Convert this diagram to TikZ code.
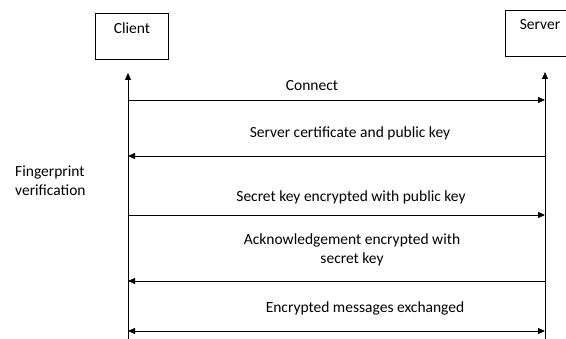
\documentclass[tikz,border=0pt]{standalone}
\usepackage{fontspec}
\setmainfont{Carlito}
\usetikzlibrary{arrows.meta}
\begin{document}
\begin{tikzpicture}[x=1pt,y=-1pt,
  box/.style={draw, line width=0.8pt, inner sep=0pt},
  lbl/.style={font=\fontsize{15.5}{19}\selectfont, inner sep=0pt},
  msg/.style={line width=0.8pt, -{Triangle[length=7pt,width=6pt]}},
  msgboth/.style={line width=0.8pt, {Triangle[length=7pt,width=6pt]}-{Triangle[length=7pt,width=6pt]}}]
\useasboundingbox (0,0) rectangle (566,339);
\clip (0,0) rectangle (566,339);
% boxes
\node[box, minimum width=73pt, minimum height=46pt, anchor=north west] (client) at (95,13) {};
\node[lbl] (clientlbl) at ([yshift=-15.5pt]client.north) {Client};
\node[box, minimum width=75pt, minimum height=46pt, anchor=north west] (server) at (505,10) {};
\node[lbl] (serverlbl) at (540,24.5) {Server};
% lifelines
\coordinate (ctop) at (128,73);
\coordinate (cbot) at (128,345);
\coordinate (stop) at (545,72);
\coordinate (sbot) at (545,345);
\draw[msg] (cbot) -- (ctop);
\draw[msg] (sbot) -- (stop);
% message points
\coordinate (c1) at (128,100); \coordinate (s1) at (545,100);
\coordinate (c2) at (128,156); \coordinate (s2) at (545,156);
\coordinate (c3) at (128,215); \coordinate (s3) at (545,215);
\coordinate (c4) at (128,281); \coordinate (s4) at (545,281);
\coordinate (c5) at (128,331); \coordinate (s5) at (545,331);
\draw[msg] (c1) -- (s1);
\draw[msg] (s2) -- (c2);
\draw[msg] (c3) -- (s3);
\draw[msg] (s4) -- (c4);
\draw[msgboth] (c5) -- (s5);
% labels
\node[lbl] (l1) at (312,85.5) {Connect};
\node[lbl] (l2) at (350,133.5) {Server certificate and public key};
\node[lbl] (l3) at (351,197.5) {Secret key encrypted with public key};
\node[lbl, align=center] (l4) at (352,250) {Acknowledgement encrypted with\\secret key};
\node[lbl] (l5) at (365,308.5) {Encrypted messages exchanged};
\node[lbl, align=left, anchor=west] (fp) at (15,181) {Fingerprint\\verification};
\end{tikzpicture}
\end{document}
